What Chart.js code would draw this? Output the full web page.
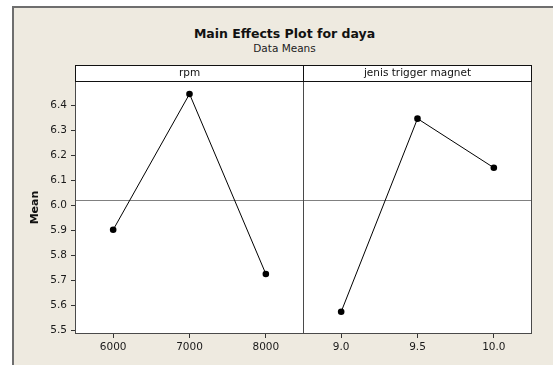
<!DOCTYPE html>
<html>
<head>
<meta charset="utf-8">
<script src="https://cdn.jsdelivr.net/npm/chart.js@4/dist/chart.umd.min.js"></script>
<style>
  html, body { margin: 0; padding: 0; background: #ffffff; overflow: hidden; }
  body { width: 553px; height: 365px; position: relative; font-family: "DejaVu Sans", sans-serif; }
  #frame {
    position: absolute; left: 12px; top: 6px; width: 545px; height: 370px;
    background: #eeeae0; border-left: 2px solid #6e6e6e; border-top: 2px solid #6e6e6e;
    box-sizing: border-box;
  }
  .ttl { position: absolute; left: 12px; width: 545px; text-align: center; color: #111; white-space: nowrap; }
  #t1 { top: 26px; font-size: 12.5px; line-height: 15px; font-weight: bold; }
  #t2 { top: 42px; font-size: 10.5px; line-height: 13px; color: #222; }
  canvas { position: absolute; top: 0; }
  #cA { left: 0; }
  #cB { left: 303px; }
</style>
</head>
<body>
<div id="frame"></div>
<div class="ttl" id="t1">Main Effects Plot for daya</div>
<div class="ttl" id="t2">Data Means</div>
<canvas id="cA" width="304" height="365"></canvas>
<canvas id="cB" width="250" height="365"></canvas>
<script>
// Factor levels and the mean response (daya) at each level
const rpmLevels = [6000, 7000, 8000];
const rpmMeans = [5.902, 6.447, 5.725];
const magnetLevels = [9.0, 9.5, 10.0];
const magnetMeans = [5.573, 6.348, 6.151];
const grandMean = 6.023;

// Axis ticks
const meanTicks = [5.5, 5.6, 5.7, 5.8, 5.9, 6.0, 6.1, 6.2, 6.3, 6.4];
const rpmTicks = [6000, 7000, 8000];
const magnetTicks = [9.0, 9.5, 10.0];

const panelTitles = ['rpm', 'jenis trigger magnet'];
const yTitle = 'Mean';

const FONT = '"DejaVu Sans", sans-serif';
const Y_MIN = 5.484, Y_MAX = 6.499;
const HEADER_TOP = 65;

function toPoints(xs, ys) { return xs.map((x, i) => ({ x: x, y: ys[i] })); }

// Panel decoration: white plot area, header strip with factor name, frame, grand-mean line
function panelPlugin(title) {
  return {
    id: 'panel',
    beforeDraw(chart) {
      const { ctx, chartArea: a } = chart;
      ctx.save();
      ctx.fillStyle = '#ffffff';
      ctx.fillRect(a.left, a.top, a.right - a.left, a.bottom - a.top);
      ctx.fillRect(a.left, HEADER_TOP, a.right - a.left, a.top - HEADER_TOP);
      ctx.restore();
    },
    beforeDatasetsDraw(chart) {
      const { ctx, chartArea: a, scales } = chart;
      const y = Math.round(scales.y.getPixelForValue(grandMean)) + 0.5;
      ctx.save();
      ctx.strokeStyle = '#808080';
      ctx.lineWidth = 1.2;
      ctx.beginPath();
      ctx.moveTo(a.left, y);
      ctx.lineTo(a.right, y);
      ctx.stroke();
      ctx.restore();
    },
    afterDraw(chart) {
      const { ctx, chartArea: a } = chart;
      const l = Math.round(a.left) + 0.5, r = Math.round(a.right) - 0.5;
      const t = Math.round(a.top) + 0.5, b = Math.round(a.bottom) - 0.5;
      ctx.save();
      ctx.lineWidth = 1;
      ctx.strokeStyle = '#4a4a4a';
      ctx.strokeRect(l, t, r - l, b - t);
      ctx.strokeStyle = '#111111';
      ctx.strokeRect(l, HEADER_TOP + 0.5, r - l, t - HEADER_TOP - 0.5);
      ctx.fillStyle = '#111111';
      ctx.font = '10.5px ' + FONT;
      ctx.textAlign = 'center';
      ctx.textBaseline = 'middle';
      ctx.fillText(title, (a.left + a.right) / 2, (HEADER_TOP + a.top) / 2 + 0.5);
      ctx.restore();
    }
  };
}

function makePanel(canvasId, levels, means, xTicks, xMin, xMax, title, showY, padRight) {
  const tickFont = { family: FONT, size: 10.5 };
  return new Chart(document.getElementById(canvasId), {
    type: 'line',
    data: {
      datasets: [{
        data: toPoints(levels, means),
        borderColor: '#000000',
        backgroundColor: '#000000',
        borderWidth: 1,
        pointRadius: 3.3,
        pointBackgroundColor: '#000000',
        pointBorderWidth: 0,
        tension: 0
      }]
    },
    options: {
      responsive: false,
      animation: false,
      events: [],
      layout: { autoPadding: false, padding: { top: 81, right: padRight, bottom: 0, left: 0 } },
      plugins: { legend: { display: false }, title: { display: false }, tooltip: { enabled: false } },
      scales: {
        x: {
          type: 'linear',
          min: xMin, max: xMax,
          afterBuildTicks: s => { s.ticks = xTicks.map(v => ({ value: v })); },
          afterFit: s => { s.height = 31; s.paddingLeft = 0; s.paddingRight = 0; },
          grid: { drawOnChartArea: false, drawTicks: true, tickLength: 4, color: '#333333' },
          border: { display: false },
          ticks: {
            font: tickFont, color: '#1a1a1a', padding: 3, maxRotation: 0, autoSkip: false,
            callback: v => (xMax < 100 ? Number(v).toFixed(1) : String(v))
          }
        },
        y: {
          type: 'linear',
          display: showY,
          min: Y_MIN, max: Y_MAX,
          afterBuildTicks: s => { s.ticks = meanTicks.map(v => ({ value: v })); },
          afterFit: s => { s.width = showY ? 75 : 0; s.paddingTop = 0; s.paddingBottom = 0; },
          grid: { drawOnChartArea: false, drawTicks: true, tickLength: 4, color: '#333333' },
          border: { display: false },
          title: {
            display: true, text: yTitle, color: '#111111',
            font: { family: FONT, size: 11, weight: 'bold' },
            padding: { top: 29, bottom: 0 }
          },
          ticks: {
            font: tickFont, color: '#1a1a1a', padding: 4, autoSkip: false,
            callback: v => Number(v).toFixed(1)
          }
        }
      }
    },
    plugins: [panelPlugin(title)]
  });
}

makePanel('cA', rpmLevels, rpmMeans, rpmTicks, 5500, 8500, panelTitles[0], true, 0);
makePanel('cB', magnetLevels, magnetMeans, magnetTicks, 8.75, 10.25, panelTitles[1], false, 21);
</script>
</body>
</html>
